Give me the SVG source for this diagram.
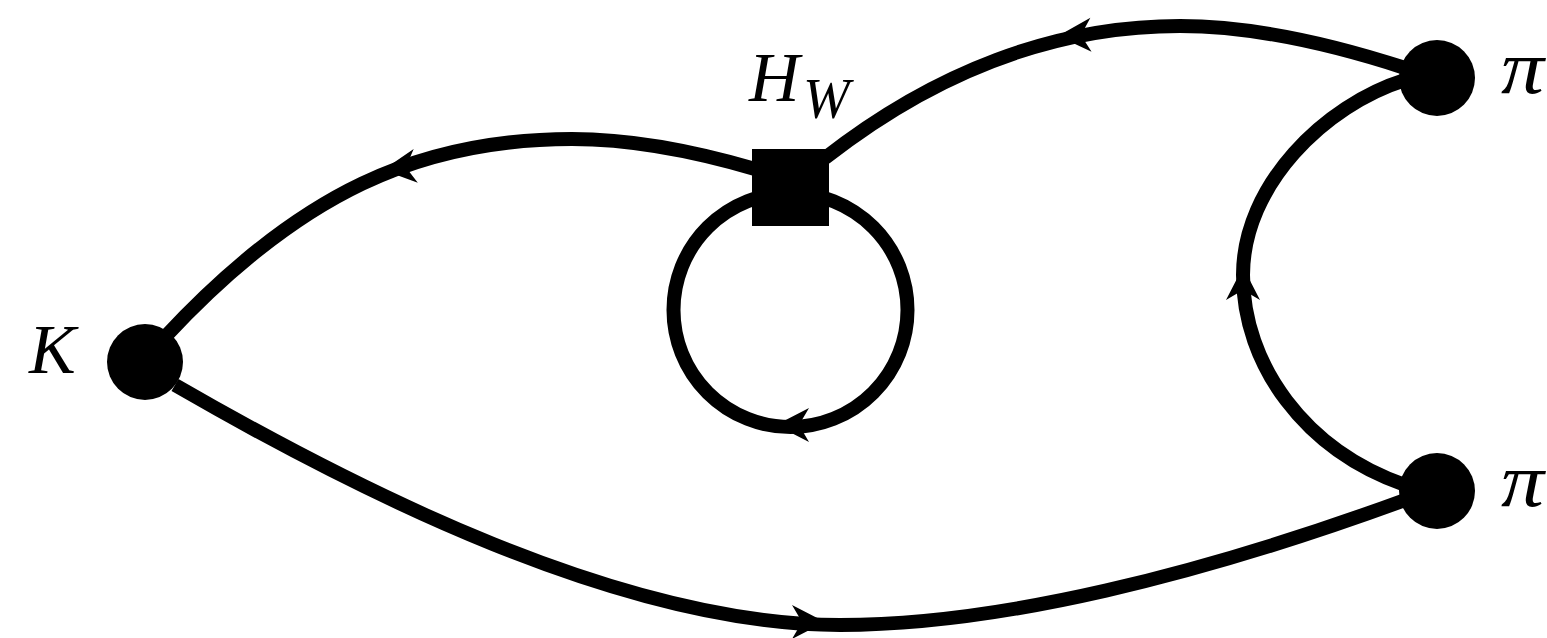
<svg xmlns="http://www.w3.org/2000/svg" width="1547" height="638" viewBox="0 0 1547 638">
<style>
.line{fill:none;stroke:#000;stroke-width:14}
text{font-family:"Liberation Serif","Times New Roman",serif;font-style:italic;fill:#000}
</style>
<defs><polygon id="head" points="0,0 33,-17 23,0 33,17" fill="#000"/></defs>
<rect width="1547" height="638" fill="#fff"/>
<g id="connectors">
<path class="line" d="M165,337 C300,192 420,139 572,139 C635,139 697,152 755,169"/>
<path class="line" d="M825,158 C935,72 1055,26 1180,26 C1250,26 1325,42 1405,68"/>
<path class="line" d="M1405,80 C1325,105 1243,185 1243,275 C1243,365 1305,450 1405,485"/>
<path class="line" d="M175,385 C355,489 621,625 840,625 C1000,625 1200,575 1405,500"/>
<circle class="line" cx="790.5" cy="310" r="117"/>
<use href="#head" transform="translate(1058,36) rotate(-2)"/>
<use href="#head" transform="translate(383,170) rotate(-7)"/>
<use href="#head" transform="translate(1243,267) rotate(90)"/>
<use href="#head" transform="translate(776,425)"/>
<use href="#head" transform="translate(825,622) rotate(180)"/>
</g>
<g id="node-k"><circle cx="145" cy="362" r="38"/><text x="29" y="373" font-size="70">K</text></g>
<g id="node-hw"><rect x="752" y="149" width="77" height="77"/><text x="749" y="101" font-size="70">H</text><text x="803" y="118" font-size="56">W</text></g>
<g id="node-pi1"><circle cx="1437" cy="78" r="38"/><text transform="translate(1501,93) scale(1.13,1)" font-size="76">π</text></g>
<g id="node-pi2"><circle cx="1437" cy="491" r="38"/><text transform="translate(1501,506) scale(1.13,1)" font-size="76">π</text></g>
</svg>
